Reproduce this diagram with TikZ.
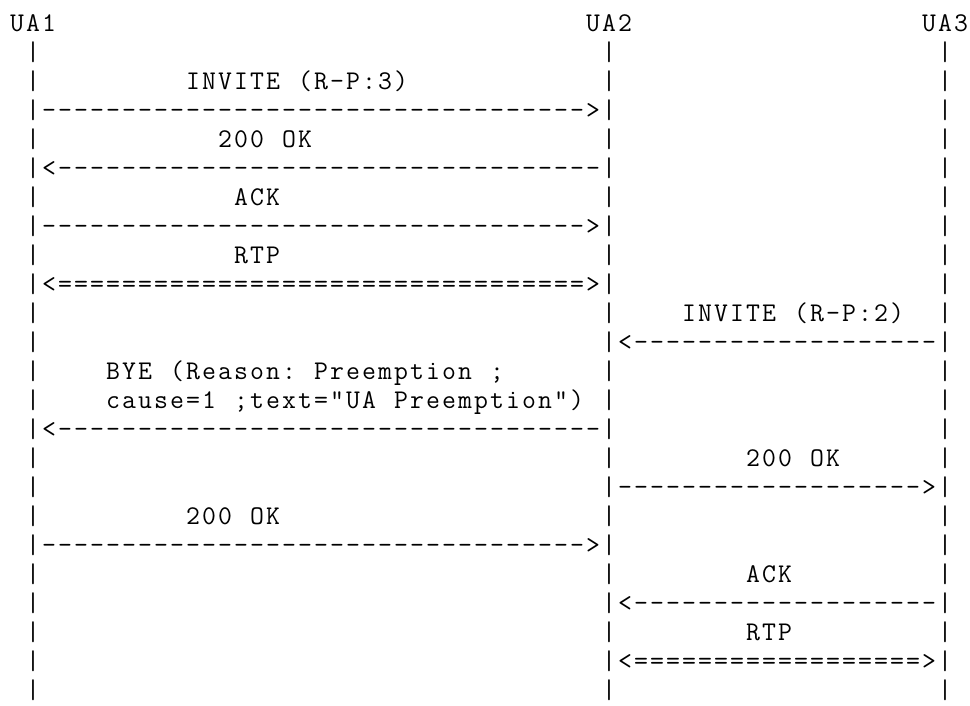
\documentclass[tikz,border=0pt]{standalone}
\usepackage{fontspec}
\setmonofont{Latin Modern Mono}
\ExplSyntaxOn
\NewDocumentCommand\gridtext{m}
  { \str_map_inline:nn {#1} { \makebox[16pt][c]{##1} } }
\NewDocumentCommand\gridrep{mm}
  { \prg_replicate:nn {#1} { \makebox[16pt][c]{#2} } }
\ExplSyntaxOff
\tikzset{
  cell/.style={inner sep=0pt, outer sep=0pt, anchor=base west,
    font=\ttfamily\fontsize{27}{27}\selectfont},
}
\newcommand\putcell[4]{\node[cell] (#1) at ({9+16*#2},{-31.5-29*#3}) {\gridtext{#4}};}
\begin{document}
\begin{tikzpicture}[x=1pt,y=1pt]
\useasboundingbox (0,0) rectangle (970,-706);
% entity labels
\putcell{ua1}{0}{0}{UA1}
\putcell{ua2}{36}{0}{UA2}
\putcell{ua3}{57}{0}{UA3}
% lifelines
\foreach \r in {1,...,23}{
  \node[cell] (la\r) at ({9+16*1},{-31.5-29*\r}) {\gridtext{|}};
  \node[cell] (lb\r) at ({9+16*37},{-31.5-29*\r}) {\gridtext{|}};
  \node[cell] (lc\r) at ({9+16*58},{-31.5-29*\r}) {\gridtext{|}};
}
% labels
\putcell{inv3}{11}{2}{INVITE (R-P:3)}
\putcell{ok1}{13}{4}{200 OK}
\putcell{ack1}{14}{6}{ACK}
\putcell{rtp1}{14}{8}{RTP}
\putcell{inv2}{42}{10}{INVITE (R-P:2)}
\putcell{bye1}{6}{12}{BYE (Reason: Preemption ;}
\putcell{bye2}{6}{13}{cause=1 ;text="UA Preemption")}
\putcell{ok2}{46}{15}{200 OK}
\putcell{ok3}{11}{17}{200 OK}
\putcell{ack2}{46}{19}{ACK}
\putcell{rtp2}{46}{21}{RTP}
% arrows (ASCII), attached to the lifelines
\node[cell] (m1) at (la3.base east) {\gridrep{34}{-}\gridtext{>}};
\node[cell] (m2) at (la5.base east) {\gridtext{<}\gridrep{34}{-}};
\node[cell] (m3) at (la7.base east) {\gridrep{34}{-}\gridtext{>}};
\node[cell] (m4) at (la9.base east) {\gridtext{<}\gridrep{33}{=}\gridtext{>}};
\node[cell] (m5) at (lb11.base east) {\gridtext{<}\gridrep{19}{-}};
\node[cell] (m6) at (la14.base east) {\gridtext{<}\gridrep{34}{-}};
\node[cell] (m7) at (lb16.base east) {\gridrep{19}{-}\gridtext{>}};
\node[cell] (m8) at (la18.base east) {\gridrep{34}{-}\gridtext{>}};
\node[cell] (m9) at (lb20.base east) {\gridtext{<}\gridrep{19}{-}};
\node[cell] (m10) at (lb22.base east) {\gridtext{<}\gridrep{18}{=}\gridtext{>}};
\end{tikzpicture}
\end{document}
